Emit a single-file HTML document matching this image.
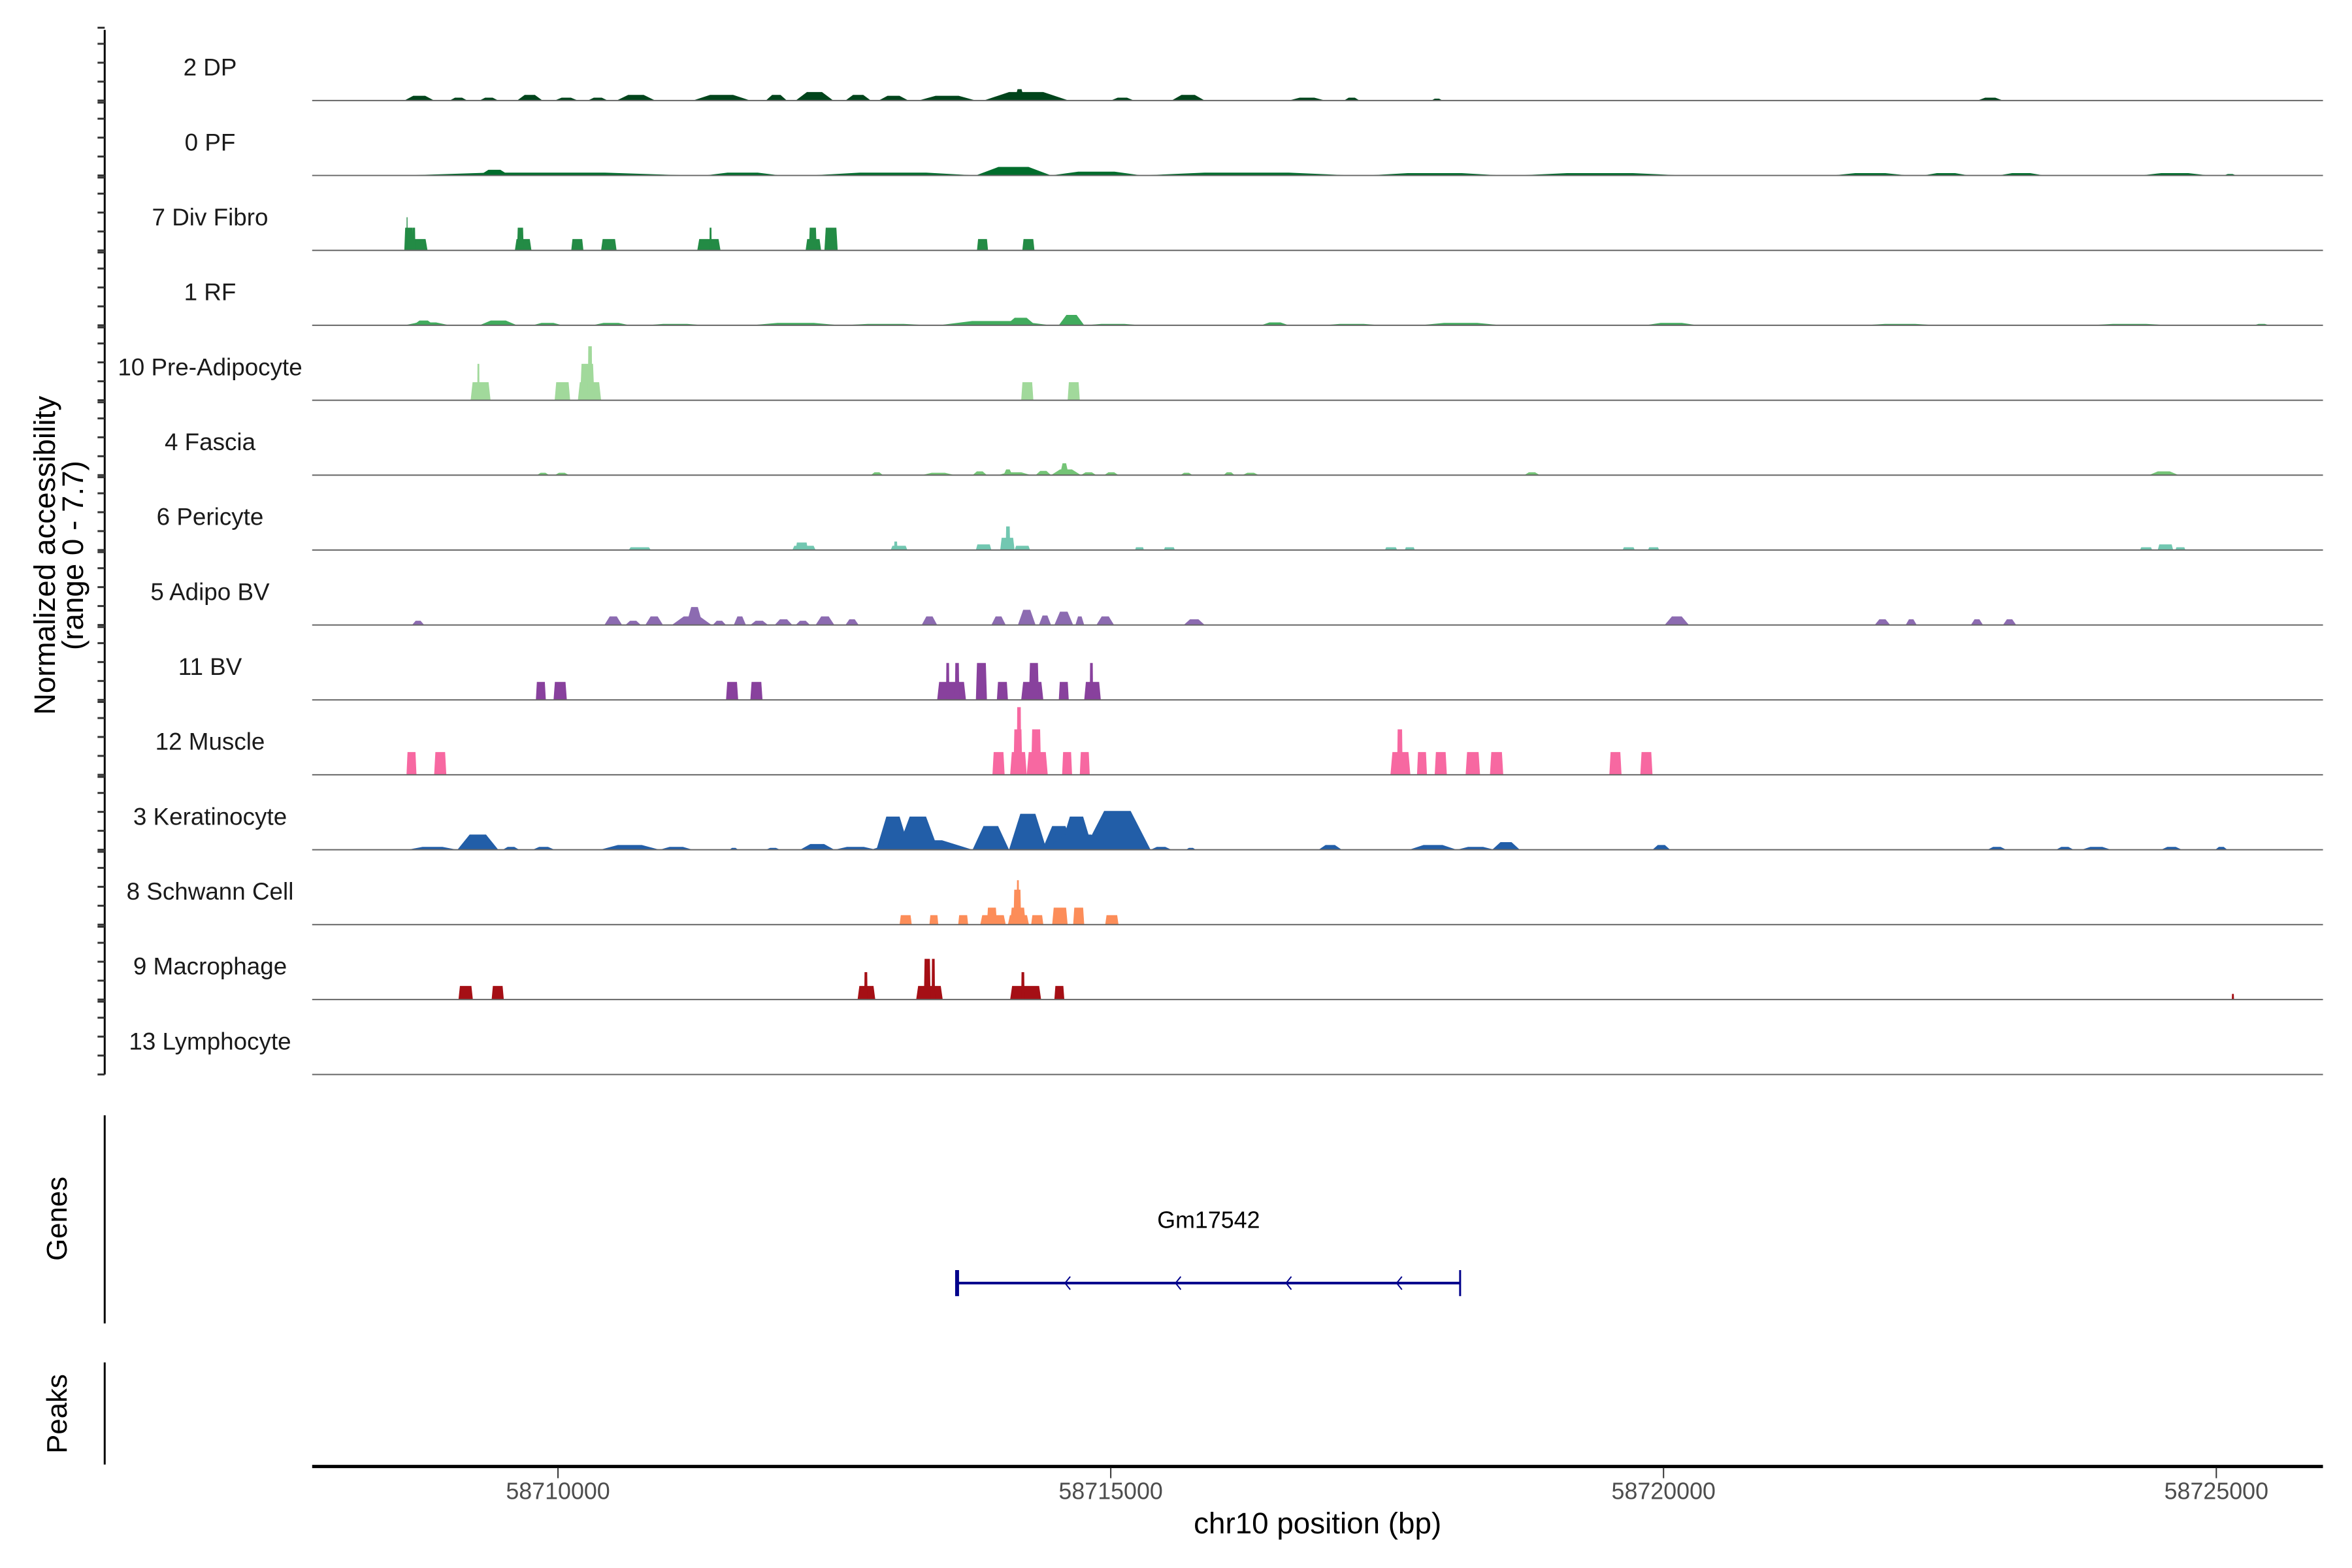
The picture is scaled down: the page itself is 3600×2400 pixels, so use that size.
<!DOCTYPE html>
<html><head><meta charset="utf-8"><style>
html,body{margin:0;padding:0;background:#fff}
svg{display:block;font-family:"Liberation Sans",Arial,sans-serif}
</style></head><body>
<svg id="chart" width="3600" height="2400" viewBox="0 0 3600 2400" xmlns="http://www.w3.org/2000/svg">
<rect width="3600" height="2400" fill="#fff"/>
<g transform="scale(0.9954)">
<g id="tracks"></g>
<g id="yaxis"></g>
<text transform="translate(69,854) rotate(-90)" text-anchor="middle" dominant-baseline="central" font-size="46" fill="#000">Normalized accessibility</text>
<text transform="translate(112,854) rotate(-90)" text-anchor="middle" dominant-baseline="central" font-size="46" fill="#000">(range 0 - 7.7)</text>
<g id="genes"></g>
<line x1="161" y1="1715" x2="161" y2="2035" stroke="#000" stroke-width="3"/>
<text transform="translate(88,1874) rotate(-90)" text-anchor="middle" dominant-baseline="central" font-size="44">Genes</text>
<line x1="161" y1="2095" x2="161" y2="2252" stroke="#000" stroke-width="3"/>
<text transform="translate(88,2174) rotate(-90)" text-anchor="middle" dominant-baseline="central" font-size="44">Peaks</text>
<g id="xaxis"></g>
<text x="2026" y="2358" text-anchor="middle" font-size="46" fill="#000">chr10 position (bp)</text>
</g>
</svg>
<script>
// positions are kb offsets relative to chr10:58,710,000 ; values are normalized accessibility
const trackNames = ["2 DP","0 PF","7 Div Fibro","1 RF","10 Pre-Adipocyte","4 Fascia","6 Pericyte","5 Adipo BV","11 BV","12 Muscle","3 Keratinocyte","8 Schwann Cell","9 Macrophage","13 Lymphocyte"];
const trackColors = ["#00441b","#006d2c","#238b45","#41ab5d","#a1d99b","#74c476","#72c7b1","#8c6bb1","#88419d","#f768a1","#225ea8","#fc8d59","#a50f15","#7f7f7f"];
const xTickValues = [58710000,58715000,58720000,58725000];
const geneStartKb = 3.61, geneEndKb = 8.16;
const geneName = "Gm17542";
const yRangeMax = 7.7;

const dpPeaks = [[-1.39,-1.12,0.5],[-0.98,-0.82,0.3],[-0.71,-0.54,0.3],[-0.37,-0.14,0.6],[-0.03,0.18,0.3],[0.27,0.45,0.3],[0.53,0.88,0.6],[1.22,1.74,0.6],[1.88,2.07,0.6],[2.15,2.49,0.9],[2.60,2.83,0.6],[2.90,3.17,0.5],[3.26,3.78,0.5],[3.85,4.62,0.9],[4.13,4.22,1.2],[5.00,5.21,0.3],[5.55,5.85,0.6],[6.61,6.94,0.3],[7.11,7.25,0.3],[7.90,8.00,0.2],[12.84,13.07,0.3]];
const pfPeaks = [[-1.39,1.20,0.3],[1.33,2.01,0.3],[2.28,3.78,0.3],[-0.71,-0.44,0.6],[3.78,4.46,0.9],[4.46,5.28,0.4],[5.28,7.18,0.3],[7.32,8.54,0.25],[8.68,10.17,0.25],[11.53,12.21,0.25],[12.35,12.76,0.25],[13.03,13.44,0.25],[14.32,14.93,0.25],[15.07,15.18,0.15]];
const divFibroPeaks = [[-1.39,-1.18,1.2],[-1.39,-1.31,2.4],[-1.37,-1.36,3.5],[-1.32,-1.29,2.4],[-0.39,-0.24,1.2],[-0.37,-0.31,2.4],[0.12,0.23,1.2],[0.39,0.53,1.2],[1.26,1.47,1.2],[1.37,1.39,2.4],[2.24,2.38,1.2],[2.27,2.34,2.4],[2.41,2.53,2.4],[3.79,3.89,1.2],[4.20,4.31,1.2]];
const rfPeaks = [[-1.39,-0.98,0.3],[-1.31,-1.12,0.5],[-0.71,-0.37,0.5],[-0.23,0.04,0.25],[0.31,0.65,0.25],[0.79,1.33,0.15],[1.74,2.56,0.25],[2.56,3.37,0.15],[3.44,4.46,0.45],[4.05,4.32,0.8],[4.53,4.76,1.1],[4.76,5.28,0.15],[6.36,6.61,0.3],[6.91,7.45,0.15],[7.79,8.54,0.25],[9.83,10.31,0.25],[11.80,12.48,0.15],[13.84,14.59,0.15],[15.34,15.48,0.15]];
const preAdipoPeaks = [[-0.79,-0.61,1.9],[-0.73,-0.71,3.85],[-0.03,0.11,1.9],[0.18,0.39,1.9],[0.20,0.33,3.85],[0.27,0.31,5.7],[4.19,4.30,1.9],[4.61,4.72,1.9]];
const fasciaPeaks = [[-0.19,-0.08,0.25],[-0.03,0.10,0.25],[2.83,2.94,0.3],[3.29,3.59,0.25],[3.75,3.88,0.4],[3.98,4.28,0.3],[4.03,4.11,0.6],[4.32,4.46,0.45],[4.46,4.73,0.6],[4.54,4.62,1.25],[4.73,4.87,0.3],[4.94,5.07,0.3],[5.63,5.74,0.25],[6.02,6.12,0.3],[6.19,6.34,0.25],[8.74,8.88,0.3],[14.39,14.66,0.4]];
const pericytePeaks = [[0.64,0.84,0.3],[2.12,2.33,0.45],[2.15,2.26,0.8],[3.01,3.16,0.45],[3.04,3.07,0.9],[3.78,3.92,0.6],[4.00,4.13,1.3],[4.05,4.09,2.5],[4.13,4.27,0.45],[5.22,5.30,0.3],[5.48,5.58,0.3],[7.48,7.59,0.3],[7.66,7.75,0.3],[9.63,9.74,0.3],[9.86,9.96,0.3],[14.31,14.42,0.3],[14.47,14.61,0.6],[14.63,14.72,0.3]];
const adipoBvPeaks = [[-1.32,-1.21,0.45],[0.42,0.58,0.9],[0.61,0.75,0.45],[0.79,0.95,0.9],[1.03,1.39,0.9],[1.16,1.31,1.9],[1.40,1.52,0.45],[1.59,1.70,0.9],[1.74,1.90,0.45],[1.96,2.12,0.6],[2.15,2.28,0.45],[2.33,2.50,0.9],[2.60,2.72,0.6],[3.29,3.43,0.9],[3.92,4.05,0.9],[4.16,4.32,1.6],[4.35,4.46,1.0],[4.49,4.66,1.4],[4.68,4.76,0.9],[4.87,5.03,0.9],[5.66,5.85,0.6],[10.01,10.23,0.9],[11.91,12.05,0.6],[12.19,12.29,0.6],[12.78,12.89,0.6],[13.07,13.19,0.6]];
const bvPeaks = [[-0.20,-0.11,1.9],[-0.04,0.08,1.9],[1.52,1.63,1.9],[1.74,1.85,1.9],[3.43,3.69,1.9],[3.51,3.54,3.9],[3.59,3.63,3.9],[3.78,3.88,3.9],[3.97,4.07,1.9],[4.19,4.39,1.9],[4.26,4.35,3.9],[4.53,4.62,1.9],[4.76,4.91,1.9],[4.81,4.84,3.9]];
const musclePeaks = [[-1.37,-1.28,2.4],[-1.12,-1.01,2.4],[3.93,4.04,2.4],[4.09,4.24,2.4],[4.12,4.20,4.8],[4.15,4.19,7.15],[4.24,4.43,2.4],[4.28,4.37,4.8],[4.56,4.65,2.4],[4.72,4.81,2.4],[7.53,7.71,2.4],[7.59,7.64,4.8],[7.77,7.86,2.4],[7.93,8.04,2.4],[8.21,8.34,2.4],[8.43,8.55,2.4],[9.51,9.62,2.4],[9.79,9.90,2.4]];
const keratinocytePeaks = [[-1.36,-0.91,0.3],[-0.91,-0.54,1.6],[-0.50,-0.35,0.3],[-0.23,-0.03,0.3],[0.38,0.92,0.5],[0.92,1.22,0.3],[1.55,1.63,0.2],[1.88,2.01,0.2],[2.19,2.50,0.6],[2.50,2.88,0.3],[2.88,3.18,3.5],[3.07,3.44,3.5],[2.83,3.75,1.0],[3.75,4.08,2.5],[4.08,4.42,3.8],[4.38,4.68,2.5],[4.54,4.84,3.5],[4.76,5.36,4.1],[4.41,5.00,1.6],[5.36,5.55,0.3],[5.68,5.77,0.2],[6.88,7.09,0.5],[7.70,8.13,0.5],[8.13,8.47,0.3],[8.45,8.70,0.8],[9.90,10.06,0.5],[12.93,13.10,0.3],[13.55,13.71,0.3],[13.78,14.05,0.3],[14.50,14.69,0.3],[14.99,15.10,0.3]];
const schwannPeaks = [[3.09,3.20,1.0],[3.36,3.44,1.0],[3.62,3.71,1.0],[3.82,4.05,1.0],[3.88,3.97,1.8],[4.07,4.26,1.0],[4.09,4.23,1.8],[4.12,4.19,3.7],[4.15,4.17,4.7],[4.28,4.39,1.0],[4.47,4.61,1.8],[4.66,4.76,1.8],[4.95,5.07,1.0]];
const macrophagePeaks = [[-0.90,-0.77,1.44],[-0.60,-0.49,1.44],[2.71,2.87,1.44],[2.77,2.80,2.9],[3.24,3.48,1.44],[3.31,3.37,4.3],[3.38,3.41,4.3],[4.09,4.37,1.44],[4.19,4.22,2.9],[4.49,4.58,1.44],[15.14,15.16,0.6]];
const lymphocytePeaks = [];

const trackPeaks = [dpPeaks,pfPeaks,divFibroPeaks,rfPeaks,preAdipoPeaks,fasciaPeaks,pericytePeaks,adipoBvPeaks,bvPeaks,musclePeaks,keratinocytePeaks,schwannPeaks,macrophagePeaks,lymphocytePeaks];
const trackBlocky = [false,false,true,false,true,false,true,false,true,true,false,true,true,true];

const NS = "http://www.w3.org/2000/svg";
const plotLeft = 480, plotRight = 3572;
function xScale(kb){ return 858 + kb*170; }
function xScaleBp(bp){ return xScale((bp-58710000)/1000); }
const firstBase = 154.6, trackStep = 115.2, trackH = 112;
function yScale(i, v){ return firstBase + i*trackStep - v/yRangeMax*trackH; }
function mk(tag, attrs, parent){ const e=document.createElementNS(NS,tag); for(const k in attrs) e.setAttribute(k,attrs[k]); parent.appendChild(e); return e; }

const gT = document.getElementById('tracks');
trackNames.forEach((name,i)=>{
  const base = yScale(i,0);
  const g = mk('g',{},gT);
  
  
  trackPeaks[i].forEach((p,j)=>{
    const xs=xScale(p[0]), xe=xScale(p[1]), yt=yScale(i,p[2]);
    const w=xe-xs, inset = trackBlocky[i] ? Math.min(w*0.1,3) : w*0.3;
    const poly = mk('polygon',{points:`${xs},${base} ${xs+inset},${yt} ${xe-inset},${yt} ${xe},${base}`,fill:trackColors[i]},g);
    
    
  });
  const bl = mk('line',{x1:plotLeft,x2:plotRight,y1:base,y2:base,stroke:'#666',"stroke-width":2},g);
  
  
  const lab = mk('text',{x:323,y:base-51,"text-anchor":"middle","dominant-baseline":"central","font-size":37,fill:"#1a1a1a"},g);
  lab.textContent = name;
  
  
});

const gY = document.getElementById('yaxis');
const yl = mk('line',{x1:161,x2:161,y1:46,y2:yScale(trackNames.length-1,0),stroke:'#000',"stroke-width":3},gY);


const yTickVals = [0,2,4,6,yRangeMax];
trackNames.forEach((n,i)=>{
  yTickVals.forEach(v=>{
    const y=yScale(i,v);
    const t=mk('line',{x1:150,x2:161,y1:y,y2:y,stroke:'#333',"stroke-width":3},gY);
    
    
  });
});

const gG = document.getElementById('genes');
const gy = 1973, gx1 = xScale(geneStartKb), gx2 = xScale(geneEndKb);
const gl = mk('line',{x1:gx1,x2:gx2,y1:gy,y2:gy,stroke:'#00008b',"stroke-width":4},gG);


[[gx1,6],[gx2,3]].forEach(([x,w])=>{
  const e=mk('line',{x1:x,x2:x,y1:gy-20,y2:gy+20,stroke:'#00008b',"stroke-width":w},gG);
  
  
});
for(let k=1;k<=4;k++){
  const cx = gx1 + (gx2-gx1)*k/4.55;
  const a=mk('polyline',{points:`${cx+4},${gy-10} ${cx-4},${gy} ${cx+4},${gy+10}`,fill:'none',stroke:'#00008b',"stroke-width":2},gG);
  
  
}
const gn = mk('text',{x:(gx1+gx2)/2,y:1876,"text-anchor":"middle","dominant-baseline":"central","font-size":36,fill:'#000'},gG);
gn.textContent = geneName;



const gX = document.getElementById('xaxis');
const xl = mk('line',{x1:plotLeft,x2:plotRight,y1:2255,y2:2255,stroke:'#000',"stroke-width":5},gX);


xTickValues.forEach(v=>{
  const x=xScaleBp(v);
  const t=mk('line',{x1:x,x2:x,y1:2257,y2:2273,stroke:'#333',"stroke-width":2},gX);
  
  
  const l=mk('text',{x:x,y:2293,"text-anchor":"middle","dominant-baseline":"central","font-size":36,fill:'#4d4d4d'},gX);
  l.textContent=String(v);
  
  
});
</script>
</body></html>
